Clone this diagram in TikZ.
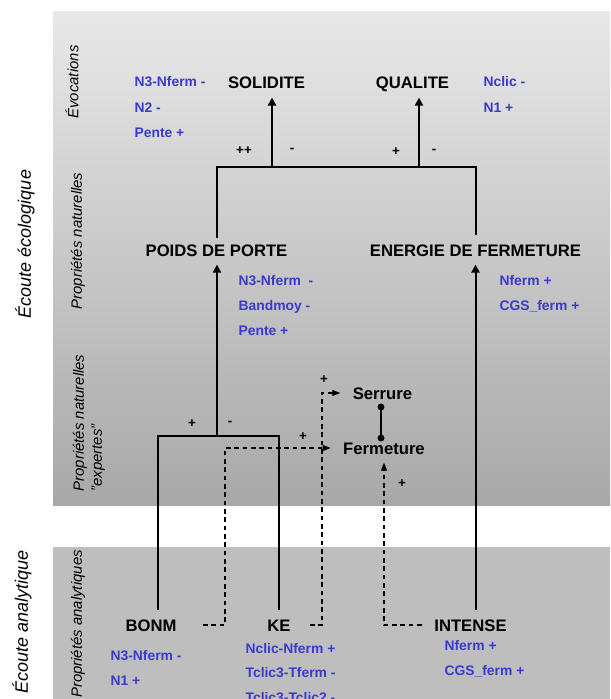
\documentclass[tikz,border=0pt]{standalone}
\usepackage{fontspec}
\setmainfont{Liberation Sans}
\usetikzlibrary{arrows.meta}
\definecolor{labelblue}{RGB}{58,58,204}
\definecolor{paneltop}{RGB}{232,232,232}
\definecolor{panelbottom}{RGB}{168,168,168}
\definecolor{panellow}{RGB}{190,190,190}
\tikzset{every picture/.style={line width=0.9pt}}
\tikzset{
  concept/.style={inner xsep=9pt, inner ysep=6pt, text height=9pt, text depth=0pt, font=\fontsize{12.5}{15}\selectfont\bfseries},
  measure/.style={anchor=base west, inner sep=0.75pt, text=labelblue, font=\fontsize{10.4}{12}\selectfont\bfseries},
  signlabel/.style={inner sep=0.75pt, font=\fontsize{10}{12}\selectfont\bfseries},
  listening/.style={rotate=90, inner sep=0.75pt, font=\fontsize{13.5}{16}\selectfont\itshape},
  stage/.style={rotate=90, inner sep=0.75pt, align=left, font=\fontsize{11.2}{13.5}\selectfont\itshape},
  treeline/.style={line width=1.5pt},
  treearrow/.style={line width=1.5pt, -{Triangle[length=6pt,width=6pt]}},
  hint/.style={dash pattern=on 3.5pt off 2.75pt, -{Triangle[length=6pt,width=4.5pt]}},
}

\begin{document}
\begin{tikzpicture}[x=0.75pt,y=0.75pt,yscale=-1,xscale=1]
\useasboundingbox (0,0) rectangle (610,699);
%Shape: Rectangle
\shade [top color=paneltop, bottom color=panelbottom] (53,12) rectangle (610,505);
%Shape: Rectangle
\fill [panellow] (53,547) rectangle (610,699);

% Text Node
\node [listening] (eco) at (25,244) {Écoute écologique};
% Text Node
\node [listening] (ana) at (22,622) {Écoute analytique};
% Text Node
\node [stage] (evoc) at (72,82) {Évocations};
% Text Node
\node [stage] (natur) at (78,241) {Propriétés naturelles};
% Text Node
\node [stage] (expert) at (89,423) {Propriétés naturelles\\''expertes''};
% Text Node
\node [stage] (analyt) at (78,624) {Propriétés analytiques};

% Text Node
\node [concept] (solidite) at (266.5,83) {SOLIDITE};
% Text Node
\node [concept] (qualite) at (412.5,83) {QUALITE};
% Text Node
\node [concept] (poids) at (216.5,250) {POIDS DE PORTE};
% Text Node
\node [concept] (energie) at (475.5,250) {ENERGIE DE FERMETURE};
% Text Node
\node [concept] (serrure) at (382.5,393) {Serrure};
% Text Node
\node [concept] (fermeture) at (384,448) {Fermeture};
% Text Node
\node [concept] (bonm) at (151,625) {BONM};
% Text Node
\node [concept] (ke) at (279,625) {KE};
% Text Node
\node [concept] (intense) at (470.5,625) {INTENSE};

% Text Node
\node [measure] (sol1) at (133,87) {N3-Nferm -};
\node [measure] (sol2) at (133,113) {N2 -};
\node [measure] (sol3) at (133,137) {Pente +};
% Text Node
\node [measure] (qual1) at (482,86) {Nclic -};
\node [measure] (qual2) at (482,112) {N1 +};
% Text Node
\node [measure] (poids1) at (237,285) {N3-Nferm~ -};
\node [measure] (poids2) at (237,310) {Bandmoy -};
\node [measure] (poids3) at (237,335) {Pente +};
% Text Node
\node [measure] (ener1) at (498,285) {Nferm +};
\node [measure] (ener2) at (498,310) {CGS\_ferm +};
% Text Node
\node [measure] (bonm1) at (109,660) {N3-Nferm -};
\node [measure] (bonm2) at (109,685) {N1 +};
% Text Node
\node [measure] (ke1) at (244,653) {Nclic-Nferm +};
\node [measure] (ke2) at (244,677) {Tclic3-Tferm -};
\node [measure] (ke3) at (244,702) {Tclic3-Tclic2 -};
% Text Node
\node [measure] (int1) at (443,650) {Nferm +};
\node [measure] (int2) at (443,675) {CGS\_ferm +};

% Text Node
\node [signlabel] (s1) at (244,151) {++};
\node [signlabel] (s2) at (292,150) {-};
\node [signlabel] (s3) at (396,152) {+};
\node [signlabel] (s4) at (434,151) {-};
\node [signlabel] (s5) at (192,424) {+};
\node [signlabel] (s6) at (230,423) {-};
\node [signlabel] (s7) at (303,437) {+};
\node [signlabel] (s8) at (324,380) {+};
\node [signlabel] (s9) at (402,484) {+};

\coordinate (jsol) at (272,167);
\coordinate (jqual) at (419,167);
\coordinate (jpoids) at (217,436);
\coordinate (jbonm) at (158,436);
\coordinate (bend1) at (225,448);
\coordinate (bend2) at (322,393);
\coordinate (lockdot) at (381,407);
\coordinate (closedot) at (381,438);

%Straight Lines
\draw [treeline, shorten <=-2pt] (poids.north) |- (jsol) -- (jqual) -| ([xshift=0.4pt]energie.north);
\draw [treearrow] (jsol) -- (jsol |- solidite.south);
\draw [treearrow] (jqual) -- (jqual |- qualite.south);
%Straight Lines
\draw [treeline] (jbonm |- bonm.north) -- (jbonm) -| (ke.north);
\draw [treearrow] (jpoids) -- (jpoids |- poids.south);
\draw [treearrow] (intense.north -| energie.south) -- (energie.south);
%Straight Lines
\draw [hint, shorten <=10.5pt] (bonm.east) -| (bend1) -- (fermeture.west);
\draw [hint, shorten <=5pt] (ke.east) -| (bend2) -- (serrure.west);
\draw [hint] (intense.west) -| (fermeture.south);
%Straight Lines
\draw [line width=1.1pt] (lockdot) -- (closedot);
\fill (lockdot) circle (2.6pt);
\fill (closedot) circle (2.6pt);
\end{tikzpicture}
\end{document}
